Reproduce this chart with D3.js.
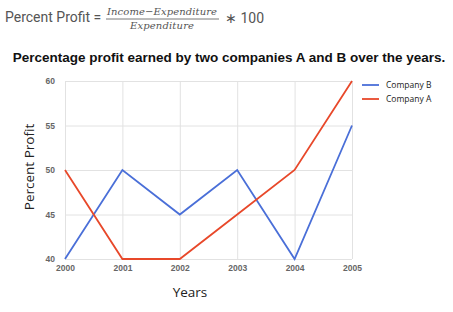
<!DOCTYPE html>
<html>
<head>
<meta charset="utf-8">
<script src="https://cdn.jsdelivr.net/npm/d3@7"></script>
<style>
  body { margin: 0; background: #fff; }
  svg { display: block; }
</style>
</head>
<body>
<div id="chart"></div>
<script>
// data
const years = [2000, 2001, 2002, 2003, 2004, 2005];
const companyA = [50, 40, 40, 45, 50, 60];
const companyB = [40, 50, 45, 50, 40, 55];
const yTicks = [40, 45, 50, 55, 60];
const seriesNames = ["Company B", "Company A"];
const seriesColors = ["#4a6fd8", "#e8482a"];

const width = 453, height = 312;
const margin = {left: 65, right: 101, top: 81, bottom: 53};

const svg = d3.select("#chart").append("svg")
    .attr("width", width)
    .attr("height", height);

// formula heading
const formula = svg.append("g").attr("fill", "#555");
formula.append("text")
    .attr("x", 5).attr("y", 22)
    .style("font-family", "Roboto, 'Liberation Sans', sans-serif")
    .style("font-size", "14px")
    .text("Percent Profit =");
formula.append("text")
    .attr("x", 162).attr("y", 15)
    .attr("text-anchor", "middle")
    .attr("textLength", 110)
    .style("font-family", "'DejaVu Serif', 'Liberation Serif', serif")
    .style("font-style", "italic")
    .style("font-size", "10px")
    .text("Income\u2212Expenditure");
formula.append("line")
    .attr("x1", 106).attr("x2", 219)
    .attr("y1", 19).attr("y2", 19)
    .attr("stroke", "#555").attr("stroke-width", 0.8);
formula.append("text")
    .attr("x", 162).attr("y", 29)
    .attr("text-anchor", "middle")
    .attr("textLength", 64)
    .style("font-family", "'DejaVu Serif', 'Liberation Serif', serif")
    .style("font-style", "italic")
    .style("font-size", "10px")
    .text("Expenditure");
formula.append("text")
    .attr("x", 225).attr("y", 23)
    .style("font-family", "Roboto, 'Liberation Sans', sans-serif")
    .style("font-size", "14px")
    .text("\u2217 100");

// title
svg.append("text")
    .attr("x", 229).attr("y", 62)
    .attr("text-anchor", "middle")
    .style("font-family", "'Liberation Sans', Arial, sans-serif")
    .style("font-weight", "bold")
    .style("font-size", "13.5px")
    .attr("fill", "#111")
    .text("Percentage profit earned by two companies A and B over the years.");

const x = d3.scaleLinear()
    .domain([2000, 2005])
    .range([margin.left, width - margin.right]);
const y = d3.scaleLinear()
    .domain([40, 60])
    .range([height - margin.bottom, margin.top]);

// grid
const grid = svg.append("g").attr("stroke", "#e2e2e2").attr("stroke-width", 1);
grid.selectAll(".h").data(yTicks).enter().append("line")
    .attr("x1", margin.left).attr("x2", width - margin.right)
    .attr("y1", d => y(d) + 0.5).attr("y2", d => y(d) + 0.5);
grid.selectAll(".v").data(years).enter().append("line")
    .attr("y1", margin.top).attr("y2", height - margin.bottom)
    .attr("x1", d => x(d) + 0.5).attr("x2", d => x(d) + 0.5);

// axes labels
const tickFont = "'Liberation Sans', Arial, sans-serif";
const yAxis = d3.axisLeft(y).tickValues(yTicks).tickSize(0).tickPadding(10);
const yg = svg.append("g")
    .attr("transform", `translate(${margin.left},0)`)
    .call(yAxis);
yg.select(".domain").remove();
yg.selectAll("text")
    .style("font-family", tickFont).style("font-size", "8.5px")
    .style("font-weight", "bold").attr("fill", "#666");

const xAxis = d3.axisBottom(x).tickValues(years).tickFormat(d3.format("d")).tickSize(0).tickPadding(6);
const xg = svg.append("g")
    .attr("transform", `translate(0,${height - margin.bottom})`)
    .call(xAxis);
xg.select(".domain").remove();
xg.selectAll("text")
    .style("font-family", tickFont).style("font-size", "8.5px")
    .style("font-weight", "bold").attr("fill", "#666");

// axis titles
svg.append("text")
    .attr("transform", `translate(34,167) rotate(-90)`)
    .attr("text-anchor", "middle")
    .style("font-family", "'Open Sans', sans-serif")
    .style("font-size", "13.5px")
    .attr("fill", "#222")
    .text("Percent Profit");
svg.append("text")
    .attr("x", 190).attr("y", 297)
    .attr("text-anchor", "middle")
    .style("font-family", "'Open Sans', sans-serif")
    .style("font-size", "13.5px")
    .attr("fill", "#222")
    .text("Years");

// lines
const line = d3.line()
    .x((d, i) => x(years[i]))
    .y(d => y(d));
const series = [companyB, companyA];
svg.selectAll(".series").data(series).enter().append("path")
    .attr("d", line)
    .attr("fill", "none")
    .attr("stroke", (d, i) => seriesColors[i])
    .attr("stroke-width", 1.8);

// legend
const legend = svg.append("g").attr("transform", "translate(362,85)");
const items = legend.selectAll("g").data(seriesNames).enter().append("g")
    .attr("transform", (d, i) => `translate(0,${i * 14})`);
items.append("line")
    .attr("x1", 0).attr("x2", 17)
    .attr("stroke", (d, i) => seriesColors[i])
    .attr("stroke-width", 1.8);
items.append("text")
    .attr("x", 24).attr("dy", "0.35em")
    .style("font-family", "'Open Sans', sans-serif")
    .style("font-size", "8.5px")
    .attr("fill", "#222")
    .text(d => d);
</script>
</body>
</html>
